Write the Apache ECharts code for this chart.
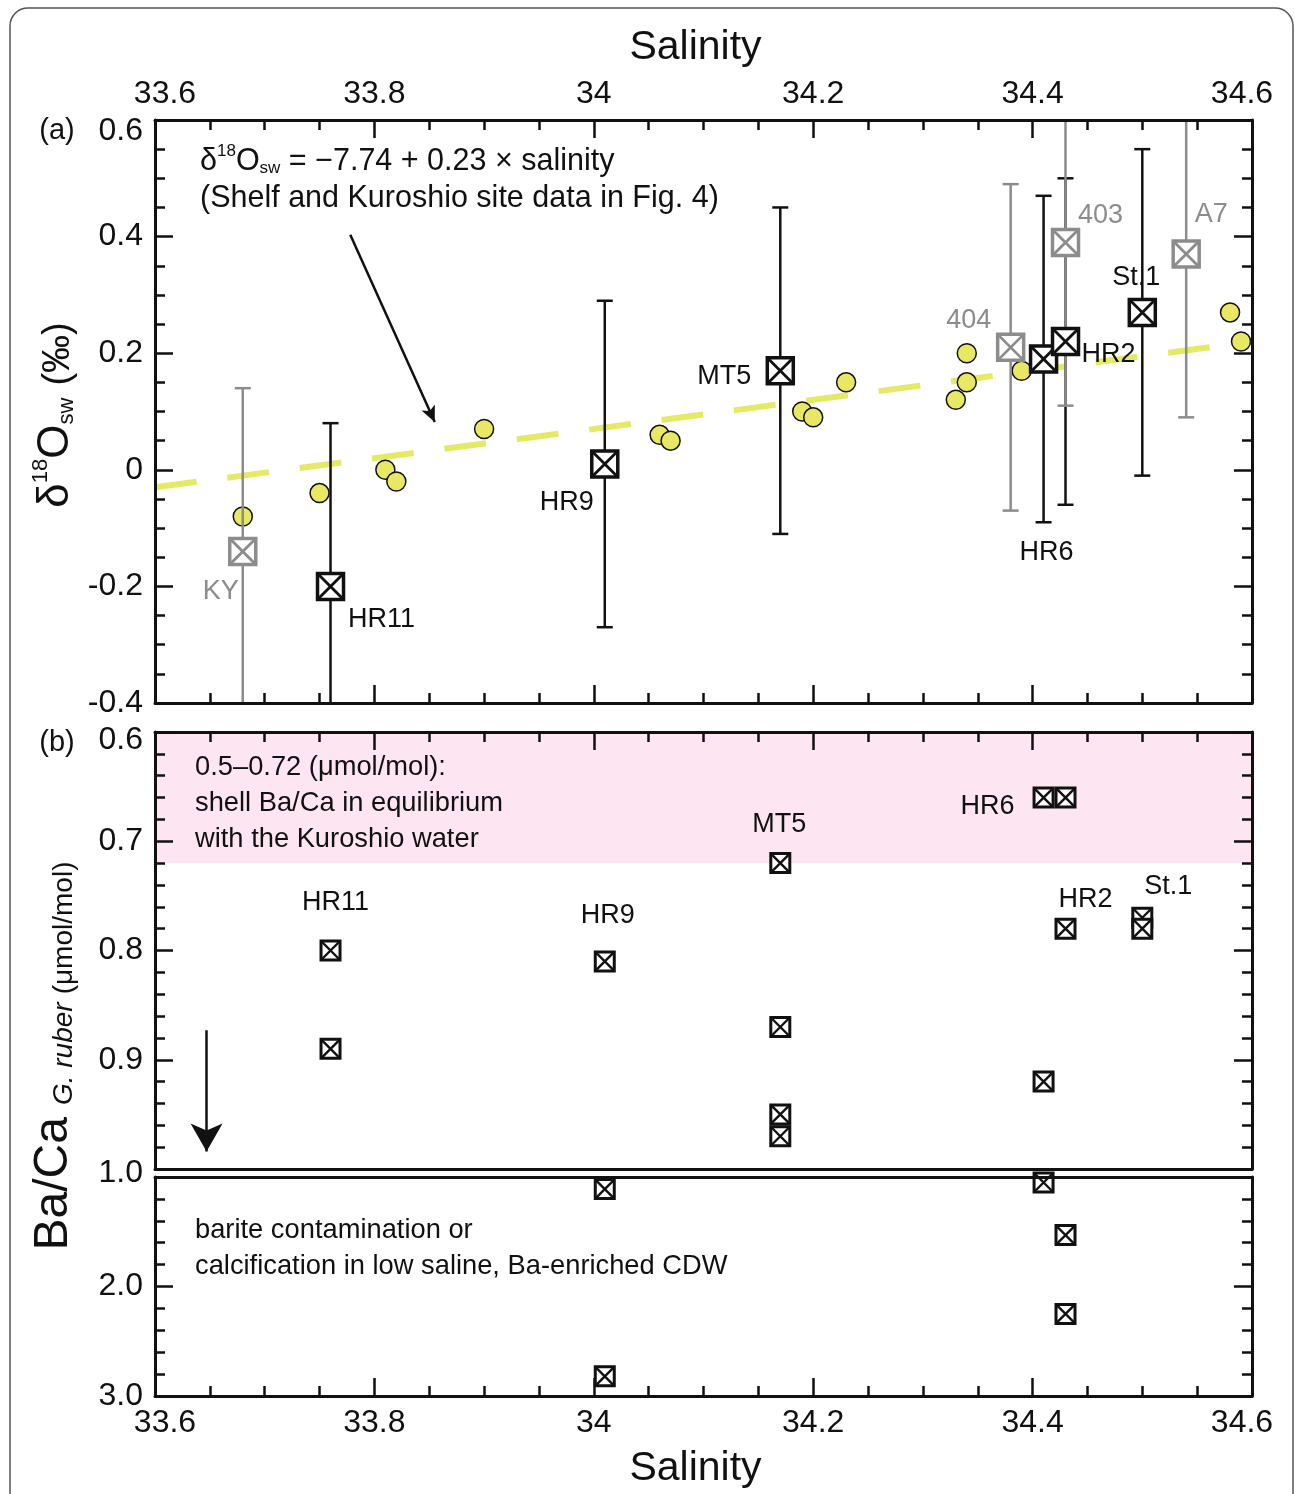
<!DOCTYPE html>
<html>
<head>
<meta charset="utf-8">
<script src="https://cdn.jsdelivr.net/npm/echarts@6/dist/echarts.min.js"></script>
<style>
html,body{margin:0;padding:0;background:#fff;}
#chart{width:1295px;height:1494px;}
</style>
</head>
<body>
<div id="chart"></div>
<script>
// panel (a): shelf and Kuroshio site data (yellow circles)
var shelfSal  = [33.68, 33.75, 33.81, 33.82, 33.90, 34.06, 34.07, 34.19, 34.20, 34.23, 34.33, 34.34, 34.34, 34.39, 34.58, 34.59];
var shelfD18O = [-0.08, -0.04, 0.00, -0.02, 0.07, 0.06, 0.05, 0.10, 0.09, 0.15, 0.12, 0.20, 0.15, 0.17, 0.27, 0.22];
// regression line end points
var fitSal  = [33.6, 34.6];
var fitD18O = [-0.03, 0.22];
// core-top sites (black) with error bars
var siteNames = ['HR11', 'HR9', 'MT5', 'HR6', 'HR2', 'St.1'];
var siteSal   = [33.76, 34.01, 34.17, 34.41, 34.43, 34.50];
var siteD18O  = [-0.20, 0.01, 0.17, 0.19, 0.22, 0.27];
var siteLow   = [-0.48, -0.27, -0.11, -0.09, -0.06, -0.01];
var siteHigh  = [0.08, 0.29, 0.45, 0.47, 0.50, 0.55];
// other sites (grey)
var refNames = ['KY', '404', '403', 'A7'];
var refSal   = [33.68, 34.38, 34.43, 34.54];
var refD18O  = [-0.14, 0.21, 0.39, 0.37];
var refLow   = [-0.42, -0.07, 0.11, 0.09];
var refHigh  = [0.14, 0.49, 0.67, 0.65];

// panel (b): Ba/Ca of G. ruber
var baSal  = [33.76, 33.76, 34.01, 34.17, 34.17, 34.17, 34.17, 34.41, 34.41, 34.43, 34.43, 34.50, 34.50];
var baCa   = [0.80, 0.89, 0.81, 0.72, 0.87, 0.95, 0.97, 0.66, 0.92, 0.66, 0.78, 0.77, 0.78];
var baHighSal = [34.01, 34.01, 34.41, 34.43, 34.43];
var baHighCa  = [1.11, 2.82, 1.05, 1.53, 2.25];
var baLabelNames = ['HR11', 'HR9', 'MT5', 'HR6', 'HR2', 'St.1'];
var baLabelSal   = [33.76, 34.01, 34.17, 34.41, 34.43, 34.50];
var baLabelCa    = [0.80, 0.81, 0.72, 0.66, 0.78, 0.77];

// label offsets in pixels (layout only)
var siteLabelOff = [[51, 33], [-38, 39], [-56, 6], [3, 194], [43, 13], [-6, -35]];
var refLabelOff  = [[-22, 40], [-42, -27], [35, -27], [25, -40]];
var baLabelOff   = [[5, -48], [3, -46], [-1, -39], [-56, 9], [20, -29], [26, -31]];

var FONT = '"Liberation Sans", Arial, Helvetica, sans-serif';
var BLACK = '#111';
var GREY = '#8c8c8c';

var chart = echarts.init(document.getElementById('chart'));

function fmtX(v){
    var s = String(+v.toFixed(1));
    if (Math.abs(v - 33.6) < 1e-6) return '{l|' + s + '}';
    if (Math.abs(v - 34.6) < 1e-6) return '{r|' + s + '}';
    return s;
}
var lblRich = {
    l:{fontSize:32, fontFamily:FONT, color:BLACK, padding:[0, 0, 0, 20]},
    r:{fontSize:32, fontFamily:FONT, color:BLACK, padding:[0, 20, 0, 0]},
    t:{fontSize:32, fontFamily:FONT, color:BLACK, padding:[22, 0, 0, 0]},
    u:{fontSize:32, fontFamily:FONT, color:BLACK, padding:[16, 0, 0, 0]},
    v:{fontSize:32, fontFamily:FONT, color:BLACK, padding:[8, 0, 0, 0]}
};

function xAx(grid, pos, showLabel, ticks, name, margin){
    return {
        type:'value', gridIndex:grid, position:pos, min:33.6, max:34.6, interval:0.2, z:10,
        splitLine:{show:false},
        axisLine:{onZero:false, lineStyle:{color:BLACK, width:3}},
        axisTick:{show:ticks, inside:true, length:18, lineStyle:{color:BLACK, width:2.5}},
        minorTick:{show:ticks, splitNumber:4, length:10, lineStyle:{color:BLACK, width:2.5}},
        axisLabel:{show:showLabel, fontSize:32, fontFamily:FONT, color:BLACK, margin:margin || 10,
                   formatter:fmtX, rich:lblRich},
        name:name || '', nameLocation:'middle', nameGap:52, nameMoveOverlap:false,
        nameTextStyle:{fontSize:41, fontFamily:FONT, color:BLACK, padding:[0, 16, 0, 0]}
    };
}

function yAx(grid, pos, min, max, interval, minor, inverse, showLabel, fmt, showMin){
    return {
        type:'value', gridIndex:grid, position:pos, min:min, max:max, interval:interval, inverse:inverse, z:10,
        splitLine:{show:false},
        axisLine:{onZero:false, lineStyle:{color:BLACK, width:3}},
        axisTick:{inside:true, length:18, lineStyle:{color:BLACK, width:2.5}},
        minorTick:{show:true, splitNumber:minor, length:10, lineStyle:{color:BLACK, width:2.5}},
        axisLabel:{show:showLabel, fontSize:32, fontFamily:FONT, color:BLACK, margin:12, formatter:fmt,
                   rich:lblRich, showMinLabel:showMin !== false}
    };
}

function fmtA(v){
    if (Math.abs(v) < 1e-9) return '0';
    if (Math.abs(v - 0.6) < 1e-9) return '{t|0.6}';
    return v.toFixed(1);
}
function fmtB(v){
    if (Math.abs(v - 0.6) < 1e-9) return '{u|0.6}';
    if (Math.abs(v - 1.0) < 1e-9) return '{v|1.0}';
    return v.toFixed(1);
}

function barItem(color, yMin, yMax){
    return function(params, api){
        var x = api.value(0), lo = api.value(2), hi = api.value(3);
        var a = api.coord([x, Math.max(lo, yMin)]);
        var b = api.coord([x, Math.min(hi, yMax)]);
        var st = {stroke:color, lineWidth:2.5};
        var ch = [{type:'line', shape:{x1:a[0], y1:a[1], x2:b[0], y2:b[1]}, style:st}];
        if (lo >= yMin) ch.push({type:'line', shape:{x1:a[0]-8, y1:a[1], x2:a[0]+8, y2:a[1]}, style:st});
        if (hi <= yMax) ch.push({type:'line', shape:{x1:b[0]-8, y1:b[1], x2:b[0]+8, y2:b[1]}, style:st});
        return {type:'group', children:ch};
    };
}

function squareItem(color, size, lw){
    return function(params, api){
        var p = api.coord([api.value(0), api.value(1)]);
        var h = size / 2;
        return {type:'group', children:[
            {type:'rect', shape:{x:p[0]-h, y:p[1]-h, width:size, height:size}, style:{fill:'#fff', stroke:color, lineWidth:lw}},
            {type:'line', shape:{x1:p[0]-h, y1:p[1]-h, x2:p[0]+h, y2:p[1]+h}, style:{stroke:color, lineWidth:lw*0.8}},
            {type:'line', shape:{x1:p[0]+h, y1:p[1]-h, x2:p[0]-h, y2:p[1]+h}, style:{stroke:color, lineWidth:lw*0.8}}
        ]};
    };
}

function labelItem(names, off, color){
    return function(params, api){
        var p = api.coord([api.value(0), api.value(1)]);
        var o = off[params.dataIndex];
        return {type:'text', x:p[0]+o[0], y:p[1]+o[1],
            style:{text:names[params.dataIndex], fill:color, font:'27px ' + FONT, align:'center', verticalAlign:'middle'}};
    };
}

function zip(){
    var arrs = Array.prototype.slice.call(arguments);
    return arrs[0].map(function(_, i){ return arrs.map(function(a){ return a[i]; }); });
}

var siteData = zip(siteSal, siteD18O, siteLow, siteHigh);
var refData  = zip(refSal, refD18O, refLow, refHigh);

function txt(x, y, s, size){
    return {type:'text', x:x, y:y, z:20, style:{text:s, font:size + 'px ' + FONT, fill:BLACK, align:'left', verticalAlign:'middle'}};
}

var option = {
    animation:false,
    backgroundColor:'#fff',
    grid:[
        {left:155, top:120, width:1097, height:583, outerBoundsMode:'none'},
        {left:155, top:732, width:1097, height:437, outerBoundsMode:'none'},
        {left:155, top:1177, width:1097, height:219, outerBoundsMode:'none'}
    ],
    xAxis:[
        xAx(0, 'bottom', false, true),
        xAx(0, 'top', true, true, 'Salinity', 10),
        xAx(1, 'top', false, true),
        xAx(1, 'bottom', false, false),
        xAx(2, 'top', false, false),
        xAx(2, 'bottom', true, true, 'Salinity', 11)
    ],
    yAxis:[
        yAx(0, 'left', -0.4, 0.6, 0.2, 4, false, true, fmtA),
        yAx(0, 'right', -0.4, 0.6, 0.2, 4, false, false, fmtA),
        yAx(1, 'left', 0.6, 1.0, 0.1, 5, true, true, fmtB),
        yAx(1, 'right', 0.6, 1.0, 0.1, 5, true, false, fmtB),
        yAx(2, 'left', 1, 3, 1, 5, true, true, fmtB, false),
        yAx(2, 'right', 1, 3, 1, 5, true, false, fmtB)
    ],
    series:[
        {
            type:'line', xAxisIndex:0, yAxisIndex:0, z:2, silent:true,
            data:zip(fitSal, fitD18O), symbol:'none',
            lineStyle:{color:'#e4e966', width:6, type:[42, 31]},
            markLine:{
                silent:true, symbol:['none', 'arrow'], symbolSize:[11, 16],
                label:{show:false},
                lineStyle:{color:BLACK, width:2.5, type:'solid'},
                data:[[{coord:[33.778, 0.403]}, {coord:[33.855, 0.082]}]]
            }
        },
        {
            type:'scatter', xAxisIndex:0, yAxisIndex:0, z:3, silent:true,
            data:zip(shelfSal, shelfD18O), symbol:'circle', symbolSize:19,
            itemStyle:{color:'#e8e864', borderColor:BLACK, borderWidth:1.5, opacity:1}
        },
        {type:'custom', xAxisIndex:0, yAxisIndex:0, z:4, silent:true, data:siteData, renderItem:barItem(BLACK, -0.4, 0.6)},
        {type:'custom', xAxisIndex:0, yAxisIndex:0, z:5, silent:true, data:refData, renderItem:barItem(GREY, -0.4, 0.6)},
        {type:'custom', xAxisIndex:0, yAxisIndex:0, z:6, silent:true, data:refData, renderItem:squareItem(GREY, 26, 3.5)},
        {type:'custom', xAxisIndex:0, yAxisIndex:0, z:6, silent:true, data:siteData, renderItem:squareItem(BLACK, 26, 3.5)},
        {type:'custom', xAxisIndex:0, yAxisIndex:0, z:7, silent:true, data:siteData, renderItem:labelItem(siteNames, siteLabelOff, BLACK)},
        {type:'custom', xAxisIndex:0, yAxisIndex:0, z:7, silent:true, data:refData, renderItem:labelItem(refNames, refLabelOff, GREY)},
        // panel (b) upper
        {
            type:'line', xAxisIndex:3, yAxisIndex:2, z:1, silent:true, data:[],
            markArea:{
                silent:true, itemStyle:{color:'#fde6f2'},
                data:[[{coord:[33.6, 0.6]}, {coord:[34.6, 0.72]}]]
            },
            markLine:{
                silent:true, symbol:['none', 'arrow'], symbolSize:[24, 28],
                label:{show:false},
                lineStyle:{color:BLACK, width:2.5, type:'solid'},
                data:[[{coord:[33.647, 0.873]}, {coord:[33.647, 0.984]}]]
            }
        },
        {type:'custom', xAxisIndex:3, yAxisIndex:2, z:6, silent:true, data:zip(baSal, baCa), renderItem:squareItem(BLACK, 19, 3)},
        {type:'custom', xAxisIndex:3, yAxisIndex:2, z:7, silent:true, data:zip(baLabelSal, baLabelCa), renderItem:labelItem(baLabelNames, baLabelOff, BLACK)},
        // panel (b) lower
        {type:'custom', xAxisIndex:5, yAxisIndex:4, z:6, silent:true, data:zip(baHighSal, baHighCa), renderItem:squareItem(BLACK, 19, 3)}
    ],
    graphic:[
        {type:'rect', z:0, silent:true, shape:{x:10, y:8, width:1283, height:1530, r:18}, style:{fill:'none', stroke:'#555', lineWidth:1.5}},
        {type:'text', x:57, y:131, style:{text:'(a)', font:'29px ' + FONT, fill:BLACK, align:'center', verticalAlign:'middle'}},
        {type:'text', x:57, y:743, style:{text:'(b)', font:'29px ' + FONT, fill:BLACK, align:'center', verticalAlign:'middle'}},
        {type:'text', x:200, y:160, z:20, style:{
            text:'{n|δ}{sup|18}{n|O}{sub|sw}{n| = −7.74 + 0.23 × salinity}',
            align:'left', verticalAlign:'middle', fill:BLACK,
            rich:{
                n:{fontSize:30.5, fontFamily:FONT, fill:BLACK, lineHeight:34, verticalAlign:'bottom'},
                sup:{fontSize:17, fontFamily:FONT, fill:BLACK, lineHeight:34, verticalAlign:'top'},
                sub:{fontSize:17, fontFamily:FONT, fill:BLACK, lineHeight:34, verticalAlign:'bottom'}
            }
        }},
        txt(200, 199, '(Shelf and Kuroshio site data in Fig. 4)', 30.5),
        txt(195, 767, '0.5–0.72 (μmol/mol):', 27.3),
        txt(195, 803, 'shell Ba/Ca in equilibrium', 27.3),
        txt(195, 839, 'with the Kuroshio water', 27.3),
        txt(195, 1230, 'barite contamination or', 27.3),
        txt(195, 1266, 'calcification in low saline, Ba-enriched CDW', 27.3),
        {type:'text', x:54, y:415, rotation:Math.PI / 2, z:20, style:{
            text:'{n|δ}{sup|18}{n|O}{sub|sw}{m|(‰)}',
            align:'center', verticalAlign:'middle', fill:BLACK,
            rich:{
                n:{fontSize:44, fontFamily:FONT, fill:BLACK, lineHeight:48, verticalAlign:'bottom'},
                sup:{fontSize:22, fontFamily:FONT, fill:BLACK, lineHeight:48, verticalAlign:'top'},
                sub:{fontSize:22, fontFamily:FONT, fill:BLACK, lineHeight:48, verticalAlign:'bottom'},
                m:{fontSize:38, fontFamily:FONT, fill:BLACK, lineHeight:48, verticalAlign:'bottom', padding:[0, 0, 0, 12]}
            }
        }},
        {type:'text', x:52, y:1056, rotation:Math.PI / 2, z:20, style:{
            text:'{b|Ba/Ca}{i|G. ruber}{s|(μmol/mol)}',
            align:'center', verticalAlign:'middle', fill:BLACK,
            rich:{
                b:{fontSize:48, fontFamily:FONT, fill:BLACK, lineHeight:52, verticalAlign:'bottom'},
                i:{fontSize:28, fontFamily:FONT, fontStyle:'italic', fill:BLACK, lineHeight:52, verticalAlign:'bottom', padding:[0, 0, 0, 12]},
                s:{fontSize:28, fontFamily:FONT, fill:BLACK, lineHeight:52, verticalAlign:'bottom', padding:[0, 0, 0, 8]}
            }
        }}
    ]
};

chart.setOption(option);
</script>
</body>
</html>
